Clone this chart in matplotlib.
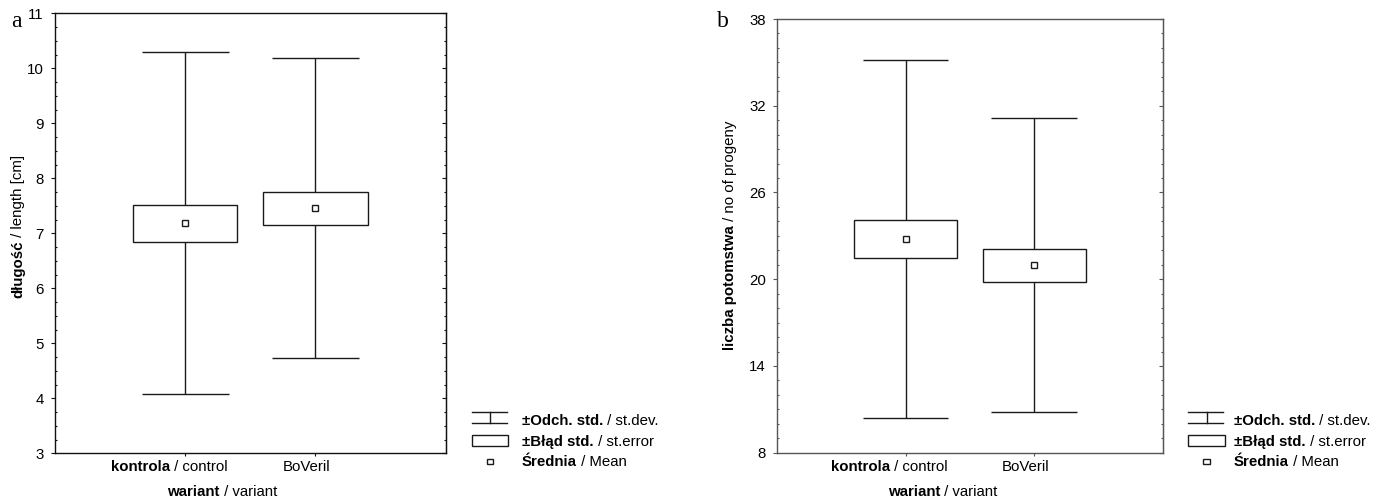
import matplotlib
matplotlib.use("Agg")
import matplotlib.pyplot as plt
from matplotlib.lines import Line2D
from matplotlib.patches import Rectangle
from matplotlib.ticker import MultipleLocator
from matplotlib.offsetbox import TextArea, HPacker, AnnotationBbox

# ---------------- data ----------------
categories_bold = ["kontrola", ""]
categories_rest = [" / control", "BoVeril"]

length_mean = [7.18, 7.46]
length_se = [0.33, 0.30]
length_sd = [3.11, 2.72]

progeny_mean = [22.78, 20.97]
progeny_se = [1.32, 1.13]
progeny_sd = [12.40, 10.17]

length_ticks = [3, 4, 5, 6, 7, 8, 9, 10, 11]
progeny_ticks = [8, 14, 20, 26, 32, 38]

legend_bold = ["±Odch. std.", "±Błąd std.", "Średnia"]
legend_rest = [" / st.dev.", " / st.error", " / Mean"]

# ---------------- style ----------------
FS = 10.8
plt.rcParams["font.family"] = ["Liberation Sans", "DejaVu Sans"]
plt.rcParams["font.size"] = FS

W, H = 1389, 503
fig = plt.figure(figsize=(W / 100, H / 100), dpi=100)
PT = 72 / 100  # points per pixel


def fx(x):
    return x / W


def fy(y):
    return 1 - y / H


def make_axes(l, t, r, b):
    return fig.add_axes([fx(l), fy(b), fx(r) - fx(l), fy(t) - fy(b)])


def mixed(parent, segs, xy, xycoords, align, xybox=(0, 0)):
    boxes = [TextArea(t, textprops=dict(fontsize=FS, fontweight=w)) for t, w in segs if t]
    pack = HPacker(children=boxes, align="baseline", pad=0, sep=0)
    ab = AnnotationBbox(pack, xy, xycoords=xycoords, xybox=xybox, boxcoords="offset points",
                        box_alignment=align, frameon=False, pad=0, annotation_clip=False)
    parent.add_artist(ab)
    return ab


def rotated_label(ax, bold, rest, x, ybottom):
    t1 = fig.text(fx(x), fy(ybottom), bold, fontsize=FS, fontweight="bold", rotation=90,
                  ha="center", va="bottom")
    ax.annotate(rest, xy=(0.5, 1), xycoords=t1, rotation=90, ha="center", va="bottom",
                fontsize=FS, annotation_clip=False)


def draw_panel(ax, means, ses, sds, ticks, minor, spine_col, label_offsets, xlabel_x):
    xs = [1, 2]
    col = "#1a1a1a"
    lo = [m - s for m, s in zip(means, sds)]
    hi = [m + s for m, s in zip(means, sds)]
    ax.vlines(xs, lo, hi, color=col, lw=1.0, zorder=1)
    ax.hlines(lo, [x - 0.333 for x in xs], [x + 0.333 for x in xs], color=col, lw=1.0, zorder=1)
    ax.hlines(hi, [x - 0.333 for x in xs], [x + 0.333 for x in xs], color=col, lw=1.0, zorder=1)
    ax.bar(xs, [2 * s for s in ses], bottom=[m - s for m, s in zip(means, ses)], width=0.8,
           color="white", edgecolor=col, lw=1.0, zorder=2)
    ax.plot(xs, means, ls="none", marker="s", ms=5, mfc="white", mec=col, mew=1.0, zorder=3)

    ax.set_xlim(0, 3)
    ax.set_ylim(ticks[0], ticks[-1])
    ax.set_yticks(ticks)
    ax.yaxis.set_minor_locator(MultipleLocator(minor))
    ax.set_xticks(xs)
    ax.set_xticklabels([])
    for x, b, r, o in zip(xs, categories_bold, categories_rest, label_offsets):
        mixed(ax, [(b, "bold"), (r, "normal")], (x, 0), ax.get_xaxis_transform(),
              (0.5, 1), xybox=(o * PT, -7 * PT))
    ax.tick_params(axis="x", which="both", direction="out", length=2.2, width=0.8, colors=spine_col)
    ax.tick_params(axis="y", which="major", direction="out", length=3, width=0.8, pad=5, colors=spine_col,
                   labelcolor="black", labelsize=FS)
    ax.tick_params(axis="y", which="minor", direction="in", length=1.5, width=0.8, colors=spine_col)
    sec = ax.secondary_yaxis("right")
    sec.set_yticks(ticks)
    sec.yaxis.set_minor_locator(MultipleLocator(minor))
    sec.tick_params(which="major", direction="in", length=3, width=0.8, labelright=False, colors=spine_col)
    sec.tick_params(which="minor", direction="in", length=1.5, width=0.8, colors=spine_col)
    sec.spines["right"].set_color(spine_col)
    for s in ax.spines.values():
        s.set_color(spine_col)
        s.set_linewidth(1.0)
    # x axis title
    mixed(fig, [("wariant", "bold"), (" / variant", "normal")], (xlabel_x, H - 485),
          "figure pixels", (0.5, 1))


axa = make_axes(55, 13.3, 445.7, 453.3)
draw_panel(axa, length_mean, length_se, length_sd, length_ticks, 0.25, "#111111", [-16, -8.5], 222)
rotated_label(axa, "długość", " / length [cm]", 18.5, 298.3)

axb = make_axes(777, 19, 1162.7, 452.7)
draw_panel(axb, progeny_mean, progeny_se, progeny_sd, progeny_ticks, 1, "#555555", [-16, -9], 942.7)
rotated_label(axb, "liczba potomstwa", " / no of progeny", 730, 350)

# panel letters
fig.text(fx(11), fy(27), "a", fontsize=17, family="Liberation Serif", va="baseline", ha="left")
fig.text(fx(717), fy(27), "b", fontsize=17, family="Liberation Serif", va="baseline", ha="left")


# legends
def legend(x0, x1, xv, sq0, sq1, xt):
    c = "#1a1a1a"
    fig.add_artist(Line2D([fx(x0), fx(x1)], [fy(412.3), fy(412.3)], color=c, lw=1.0))
    fig.add_artist(Line2D([fx(x0), fx(x1)], [fy(423.3), fy(423.3)], color=c, lw=1.0))
    fig.add_artist(Line2D([fx(xv), fx(xv)], [fy(412.3), fy(423.3)], color=c, lw=1.0))
    fig.add_artist(Rectangle((fx(x0), fy(446)), fx(x1 + 1.5) - fx(x0), fy(434.5) - fy(446),
                             facecolor="white", edgecolor=c, lw=1.0, transform=fig.transFigure))
    fig.add_artist(Rectangle((fx(sq0), fy(464)), fx(sq1) - fx(sq0), fy(459) - fy(464),
                             facecolor="white", edgecolor=c, lw=1.0, transform=fig.transFigure))
    for b, r, yb in zip(legend_bold, legend_rest, [425, 446, 466]):
        mixed(fig, [(b, "bold"), (r, "normal")], (xt, H - yb - 3), "figure pixels", (0, 0))


legend(471.7, 506.7, 490, 486.7, 493.3, 522)
legend(1188.3, 1223.3, 1206.7, 1203.3, 1210, 1234)

fig.savefig("out.png", dpi=100)
